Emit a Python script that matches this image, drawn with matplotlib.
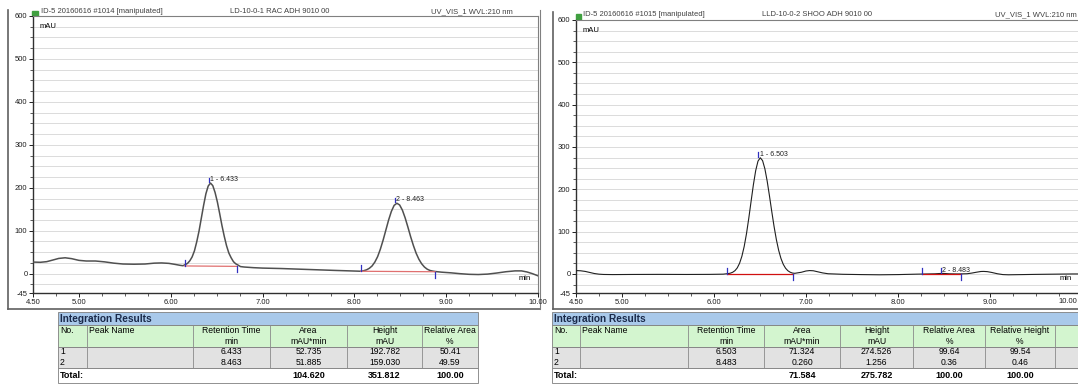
import matplotlib
matplotlib.use('Agg')
import matplotlib.pyplot as plt
from matplotlib.patches import Rectangle
import matplotlib.ticker as mticker

plt.rcParams['font.family'] = ['Liberation Sans', 'DejaVu Sans']

# ---------------- data ----------------
left_time = [4.50, 4.58, 4.65, 4.72, 4.78, 4.85, 4.92, 5.00, 5.08, 5.18, 5.28, 5.38,
             5.48, 5.60, 5.72, 5.82, 5.90, 5.98, 6.05, 6.10, 6.133,
             6.158, 6.183, 6.208, 6.233, 6.258, 6.283, 6.308, 6.333, 6.358, 6.383, 6.408,
             6.433,
             6.458, 6.483, 6.508, 6.533, 6.558, 6.583, 6.608, 6.633, 6.658, 6.683, 6.708,
             6.733, 6.76, 6.80, 6.90, 7.00, 7.20, 7.40, 7.60, 7.80, 7.95, 8.05, 8.073,
             8.103, 8.133, 8.163, 8.193, 8.223, 8.253, 8.283, 8.313, 8.343, 8.373, 8.403,
             8.433, 8.463,
             8.493, 8.523, 8.553, 8.583, 8.613, 8.643, 8.673, 8.703, 8.733, 8.763, 8.793,
             8.823, 8.853, 8.883, 8.95, 9.05, 9.15, 9.25, 9.35, 9.45, 9.55, 9.65, 9.75,
             9.82, 9.88, 9.94, 10.00]
left_signal = [27, 26.5, 28, 32, 35.5, 37, 35, 31, 29.5, 29.5, 27.5, 24.5,
               22.5, 22, 22.5, 24.5, 25, 24, 21.5, 19.5, 18.5,
               21, 24, 30, 39, 53, 74, 99, 129, 159, 186, 204,
               211,
               205, 189, 167, 140, 112, 87, 65, 48, 37, 28, 23,
               20, 16.5, 15.5, 14, 13, 12, 10.5, 9, 7.5, 6.5, 5.8, 5.6,
               7, 9, 12.5, 18, 27, 39.5, 57, 78, 101.5, 125, 145,
               159, 164,
               160, 148, 130, 108.5, 86, 65.5, 47.5, 33.5, 23, 15.5, 10.5,
               7.5, 6, 5, 3.5, 2, 0, -1.5, -2, -1, 1.5, 4.5, 6.5,
               6.5, 4, 0, -5]

right_time = [4.50, 4.55, 4.60, 4.65, 4.70, 4.75, 4.80, 4.90, 5.10, 5.40, 5.70, 5.95,
              6.10, 6.153, 6.178, 6.203, 6.228, 6.253, 6.278, 6.303, 6.328, 6.353, 6.378,
              6.403, 6.428, 6.453, 6.478, 6.503,
              6.528, 6.553, 6.578, 6.603, 6.628, 6.653, 6.678, 6.703, 6.728, 6.753, 6.778,
              6.803, 6.828, 6.853, 6.878,
              6.95, 7.00, 7.04, 7.08, 7.13, 7.18, 7.24, 7.40, 7.60, 7.80, 8.00, 8.20,
              8.40, 8.44, 8.483, 8.52, 8.56, 8.65, 8.75, 8.80, 8.85, 8.90, 8.93, 8.97,
              9.02, 9.08, 9.14, 9.20, 9.35, 9.50, 9.70, 9.90, 10.10]
right_signal = [8, 7.5, 6, 3.5, 1, -0.5, -1.2, -1.5, -1.2, -1, -1.2, -1,
                -0.5, 0.8, 1.9, 4, 7.8, 14.4, 25.3, 41.7, 64.8, 95, 131.5,
                171.4, 210.6, 244, 266.5, 274.5,
                267.8, 248.5, 219.4, 184.3, 147.3, 112, 81, 55.7, 36.5, 22.7, 13.5,
                7.6, 4.1, 2.1, 1.5,
                4, 7, 8, 7.5, 5, 2.5, 0.5, -0.8, -1.5, -2, -1.5, -0.5,
                0.3, 0.9, 1.3, 0.9, 0.3, 0, 0.5, 2, 4, 5.8, 6, 5.5,
                3.5, 0.5, -1.5, -2, -1.5, -1, -0.5, 0, 0]

# peak events: retention time, apex value, start/end time, baseline at start/end
left_rt = [6.433, 8.463]
left_apex = [211, 164]
left_start = [6.15, 8.07]
left_end = [6.72, 8.88]
left_base_start = [18, 5.6]
left_base_end = [17, 4.5]

right_rt = [6.503, 8.483]
right_apex = [275, 1.3]
right_start = [6.14, 8.26]
right_end = [6.86, 8.68]
right_base_start = [0, 0]
right_base_end = [0, 0]

left_header = ["ID-5 20160616 #1014 [manipulated]", "LD-10-0-1 RAC ADH 9010 00",
               "UV_VIS_1 WVL:210 nm"]
right_header = ["ID-5 20160616 #1015 [manipulated]", "LLD-10-0-2 SHOO ADH 9010 00",
                "UV_VIS_1 WVL:210 nm"]

x_ticks = [4.50, 5.00, 6.00, 7.00, 8.00, 9.00, 10.00]
y_ticks = [-45, 0, 100, 200, 300, 400, 500, 600]

left_cols = [["No.", ""], ["Peak Name", ""], ["Retention Time", "min"], ["Area", "mAU*min"],
             ["Height", "mAU"], ["Relative Area", "%"]]
left_rows = [["1", "", "6.433", "52.735", "192.782", "50.41"],
             ["2", "", "8.463", "51.885", "159.030", "49.59"]]
left_total = ["Total:", "", "", "104.620", "351.812", "100.00"]

right_cols = [["No.", ""], ["Peak Name", ""], ["Retention Time", "min"], ["Area", "mAU*min"],
              ["Height", "mAU"], ["Relative Area", "%"], ["Relative Height", "%"], ["", ""]]
right_rows = [["1", "", "6.503", "71.324", "274.526", "99.64", "99.54", ""],
              ["2", "", "8.483", "0.260", "1.256", "0.36", "0.46", ""]]
right_total = ["Total:", "", "", "71.584", "275.782", "100.00", "100.00", ""]

# ---------------- figure ----------------
W, H = 1078, 387
fig = plt.figure(figsize=(W / 100, H / 100), dpi=100)
over = fig.add_axes([0, 0, 1, 1], zorder=0)
over.set_xlim(0, W)
over.set_ylim(H, 0)
over.axis('off')


def px_axes(x0, x1, ytop, ybot):
    return fig.add_axes([x0 / W, 1 - ybot / H, (x1 - x0) / W, (ybot - ytop) / H], zorder=2)


def draw_chrom(ax, t, s, rt, apex, st, en, bs, be, labcol, linecol, lw, last_label=True):
    ax.set_facecolor('white')
    ax.set_xlim(4.5, 10.0)
    ax.set_ylim(-45, 600)
    for g in range(-25, 600, 25):
        ax.axhline(g, color='#d6d6d6', lw=0.6, zorder=0)
    ax.plot(t, s, color=linecol, lw=lw, zorder=3, solid_joinstyle='round')
    for i in range(len(rt)):
        ax.plot([st[i], en[i]], [bs[i], be[i]], color=labcol, lw=0.9, zorder=4)
        ax.plot([st[i], st[i]], [bs[i], bs[i] + 14], color='#3030c0', lw=0.9, zorder=5)
        ax.plot([en[i], en[i]], [be[i], be[i] - 14], color='#3030c0', lw=0.9, zorder=5)
        ax.plot([rt[i] - 0.02, rt[i] - 0.02], [apex[i] + 2, apex[i] + 12], color='#3030c0',
                lw=0.9, zorder=5)
        ax.text(rt[i] - 0.005, apex[i] + 8, f"{i + 1} - {rt[i]:.3f}", fontsize=5,
                va='center', ha='left', color='#202020', zorder=6)
    ax.set_yticks(y_ticks)
    ax.set_yticklabels([str(v) for v in y_ticks])
    ax.yaxis.set_minor_locator(mticker.FixedLocator(list(range(-25, 600, 25))))
    ax.set_xticks(x_ticks)
    labels = [f"{v:.2f}" for v in x_ticks]
    if not last_label:
        labels[-1] = ""
    ax.set_xticklabels(labels)
    ax.xaxis.set_minor_locator(mticker.MultipleLocator(0.25))
    ax.tick_params(axis='both', which='major', direction='out', length=3, width=0.7,
                   labelsize=5.5, pad=1, colors='#202020')
    ax.tick_params(axis='both', which='minor', direction='out', length=2, width=0.6,
                   colors='#404040')
    for sp in ['left', 'bottom']:
        ax.spines[sp].set_color('#303030')
        ax.spines[sp].set_linewidth(1.0)
    for sp in ['top', 'right']:
        ax.spines[sp].set_color('#808080')
        ax.spines[sp].set_linewidth(0.8)
    ax.text(0.012, 0.975, "mAU", transform=ax.transAxes, fontsize=5.5, va='top', ha='left')


axL = px_axes(33, 538, 16, 293)
draw_chrom(axL, left_time, left_signal, left_rt, left_apex, left_start, left_end,
           left_base_start, left_base_end, '#e07070', '#505050', 1.1)
axL.text(0.985, 0.04, "min", transform=axL.transAxes, fontsize=5.5, ha='right', va='bottom')

axR = px_axes(576, 1082, 20, 293)
draw_chrom(axR, right_time, right_signal, right_rt, right_apex, right_start, right_end,
           right_base_start, right_base_end, '#d01010', '#202020', 0.8, last_label=False)
axR.text((1072 - 576) / 506, 0.04, "min", transform=axR.transAxes, fontsize=5.5,
         ha='right', va='bottom')
# last x label of the right panel sits at the picture edge
over.text(1077, 301.5, f"{x_ticks[-1]:.2f}", fontsize=5.5, ha='right', va='center',
          color='#202020')

# outer panel frames
over.plot([8, 8], [10, 309], color='#606060', lw=1.2)
over.plot([8, 540], [309, 309], color='#606060', lw=1.2)
over.plot([540, 540], [10, 309], color='#808080', lw=0.8)
over.plot([553, 553], [12, 309], color='#606060', lw=1.2)
over.plot([553, 1078], [309, 309], color='#606060', lw=1.2)

# headers
over.add_patch(Rectangle((32, 11), 6, 5, color='#40a040'))
over.add_patch(Rectangle((576, 14), 5, 6, color='#40a040'))
hx_left = [41, 230, 513]
hx_right = [583, 762, 1077]
for hdr, hx, yy in [(left_header, hx_left, 11.5), (right_header, hx_right, 15)]:
    over.text(hx[0], yy, hdr[0], fontsize=5.5, ha='left', va='center', color='#404040')
    over.text(hx[1], yy, hdr[1], fontsize=5.5, ha='left', va='center', color='#404040')
    over.text(hx[2], yy, hdr[2], fontsize=5.5, ha='right', va='center', color='#404040')


def draw_table(edges, cols, rows, total):
    x0, x1 = edges[0], edges[-1]
    y_title, y_head, y_data, y_tot, y_end = 312, 325, 347, 368, 383
    fs = 6.2
    over.add_patch(Rectangle((x0, y_title), x1 - x0, y_head - y_title, facecolor='#a9c9ea',
                             edgecolor='#7f7f7f', lw=0.6))
    over.text(x0 + 2, (y_title + y_head) / 2, "Integration Results", fontsize=7.3,
              fontweight='bold', va='center', ha='left', color='#1a2a4a')
    over.add_patch(Rectangle((x0, y_head), x1 - x0, y_data - y_head, facecolor='#d3f5cf',
                             edgecolor='#7f7f7f', lw=0.6))
    over.add_patch(Rectangle((x0, y_data), x1 - x0, y_tot - y_data, facecolor='#e2e2e2',
                             edgecolor='#7f7f7f', lw=0.6))
    over.add_patch(Rectangle((x0, y_tot), x1 - x0, y_end - y_tot, facecolor='white',
                             edgecolor='#7f7f7f', lw=0.6))
    for e in edges[1:-1]:
        over.plot([e, e], [y_head, y_tot], color='#8a8a8a', lw=0.6)
    for j, c in enumerate(cols):
        a, b = edges[j], edges[j + 1]
        if j < 2:
            over.text(a + 2, y_head + 5.5, c[0], fontsize=fs, ha='left', va='center')
        else:
            over.text((a + b) / 2, y_head + 5.5, c[0], fontsize=fs, ha='center', va='center')
            over.text((a + b) / 2, y_head + 16, c[1], fontsize=fs, ha='center', va='center')
    for r, row in enumerate(rows):
        yy = y_data + 5 + r * 10.5
        for j, v in enumerate(row):
            a, b = edges[j], edges[j + 1]
            if j == 0:
                over.text(a + 2, yy, v, fontsize=fs, ha='left', va='center')
            elif v:
                over.text((a + b) / 2, yy, v, fontsize=fs, ha='center', va='center')
    yy = (y_tot + y_end) / 2
    for j, v in enumerate(total):
        a, b = edges[j], edges[j + 1]
        if j == 0:
            over.text(a + 2, yy, v, fontsize=fs + 0.3, ha='left', va='center', fontweight='bold')
        elif v:
            over.text((a + b) / 2, yy, v, fontsize=fs + 0.3, ha='center', va='center',
                      fontweight='bold')


draw_table([58, 87, 193, 270, 347, 422, 478], left_cols, left_rows, left_total)
draw_table([552, 580, 688, 764, 840, 913, 985, 1055, 1130], right_cols, right_rows, right_total)

fig.savefig('out.png', dpi=100)
